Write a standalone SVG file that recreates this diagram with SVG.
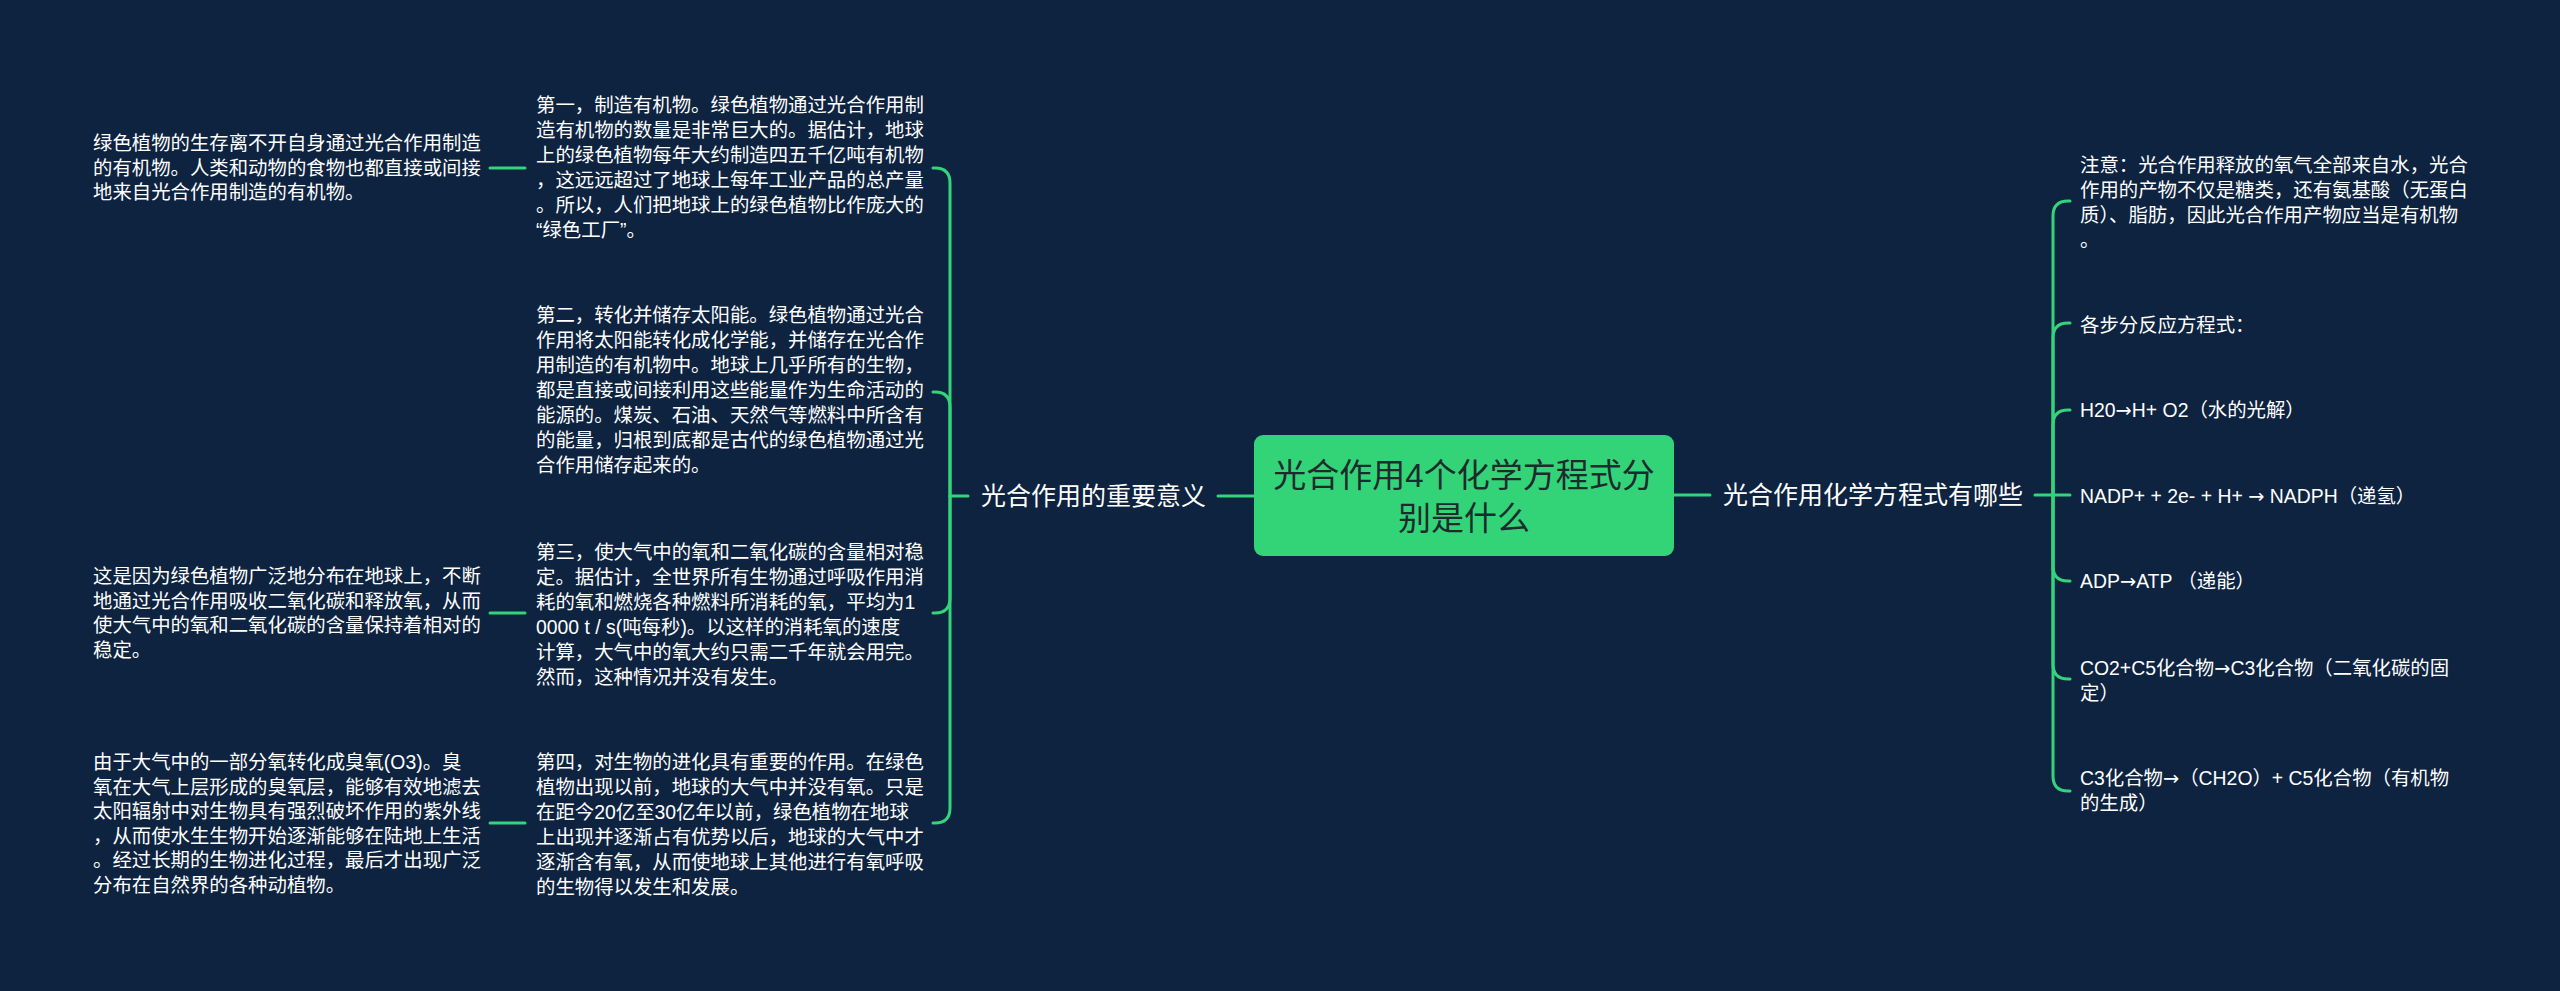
<svg xmlns="http://www.w3.org/2000/svg" width="2560" height="991" viewBox="0 0 2560 991">
<style>
.t{font-family:"Liberation Sans","Noto Sans CJK SC",sans-serif;font-size:19.4px;fill:#ffffff}
.m{font-family:"Liberation Sans","Noto Sans CJK SC",sans-serif;font-size:25px;fill:#ffffff}
.root{font-family:"Liberation Sans","Noto Sans CJK SC",sans-serif;font-size:33px;fill:#1e2b2e;text-anchor:middle}
.a{font-family:"DejaVu Sans",sans-serif}
.c{fill:none;stroke:#35d37a;stroke-width:3;stroke-linecap:round}
</style>
<rect width="2560" height="991" fill="#0d2340"/>
<g id="connectors">
<path class="c" d="M1254,496 H1218"/>
<path class="c" d="M1674,495 H1710"/>
<path class="c" d="M968,496 H950"/>
<path class="c" d="M950,496 V183 Q950,168 935,168 H933"/>
<path class="c" d="M950,496 V407 Q950,392 935,392 H933"/>
<path class="c" d="M950,496 V598 Q950,613 935,613 H933"/>
<path class="c" d="M950,496 V808 Q950,823 935,823 H933"/>
<path class="c" d="M525,168 H490"/>
<path class="c" d="M525,613 H490"/>
<path class="c" d="M525,823 H490"/>
<path class="c" d="M2035,495 H2053"/>
<path class="c" d="M2053,495 V216 Q2053,201 2068,201 H2070"/>
<path class="c" d="M2053,495 V338 Q2053,323 2068,323 H2070"/>
<path class="c" d="M2053,495 V425 Q2053,410 2068,410 H2070"/>
<path class="c" d="M2053,495 H2070"/>
<path class="c" d="M2053,495 V566 Q2053,581 2068,581 H2070"/>
<path class="c" d="M2053,495 V664 Q2053,679 2068,679 H2070"/>
<path class="c" d="M2053,495 V776 Q2053,791 2068,791 H2070"/>
</g>
<g id="root">
<rect x="1254" y="435" width="420" height="121" rx="9" fill="#33d477"/>
<text class="root" x="1464" y="487">光合作用4个化学方程式分</text>
<text class="root" x="1464" y="530">别是什么</text>
</g>
<g id="node-left-main">
<text class="m" x="981" y="505">光合作用的重要意义</text>
</g>
<g id="node-right-main">
<text class="m" x="1723" y="504">光合作用化学方程式有哪些</text>
</g>
<g id="node-m1">
<text class="t" x="536" y="112">第一，制造有机物。绿色植物通过光合作用制</text>
<text class="t" x="536" y="137">造有机物的数量是非常巨大的。据估计，地球</text>
<text class="t" x="536" y="162">上的绿色植物每年大约制造四五千亿吨有机物</text>
<text class="t" x="536" y="187">，这远远超过了地球上每年工业产品的总产量</text>
<text class="t" x="536" y="212">。所以，人们把地球上的绿色植物比作庞大的</text>
<text class="t" x="536" y="237">“绿色工厂”。</text>
</g>
<g id="node-l1">
<text class="t" x="93" y="150">绿色植物的生存离不开自身通过光合作用制造</text>
<text class="t" x="93" y="174.5">的有机物。人类和动物的食物也都直接或间接</text>
<text class="t" x="93" y="199">地来自光合作用制造的有机物。</text>
</g>
<g id="node-m2">
<text class="t" x="536" y="322">第二，转化并储存太阳能。绿色植物通过光合</text>
<text class="t" x="536" y="347">作用将太阳能转化成化学能，并储存在光合作</text>
<text class="t" x="536" y="372">用制造的有机物中。地球上几乎所有的生物，</text>
<text class="t" x="536" y="397">都是直接或间接利用这些能量作为生命活动的</text>
<text class="t" x="536" y="422">能源的。煤炭、石油、天然气等燃料中所含有</text>
<text class="t" x="536" y="447">的能量，归根到底都是古代的绿色植物通过光</text>
<text class="t" x="536" y="472">合作用储存起来的。</text>
</g>
<g id="node-m3">
<text class="t" x="536" y="559">第三，使大气中的氧和二氧化碳的含量相对稳</text>
<text class="t" x="536" y="584">定。据估计，全世界所有生物通过呼吸作用消</text>
<text class="t" x="536" y="609">耗的氧和燃烧各种燃料所消耗的氧，平均为1</text>
<text class="t" x="536" y="634">0000 t / s(吨每秒)。以这样的消耗氧的速度</text>
<text class="t" x="536" y="659">计算，大气中的氧大约只需二千年就会用完。</text>
<text class="t" x="536" y="684">然而，这种情况并没有发生。</text>
</g>
<g id="node-l3">
<text class="t" x="93" y="583">这是因为绿色植物广泛地分布在地球上，不断</text>
<text class="t" x="93" y="607.5">地通过光合作用吸收二氧化碳和释放氧，从而</text>
<text class="t" x="93" y="632">使大气中的氧和二氧化碳的含量保持着相对的</text>
<text class="t" x="93" y="656.5">稳定。</text>
</g>
<g id="node-m4">
<text class="t" x="536" y="769">第四，对生物的进化具有重要的作用。在绿色</text>
<text class="t" x="536" y="794">植物出现以前，地球的大气中并没有氧。只是</text>
<text class="t" x="536" y="819">在距今20亿至30亿年以前，绿色植物在地球</text>
<text class="t" x="536" y="844">上出现并逐渐占有优势以后，地球的大气中才</text>
<text class="t" x="536" y="869">逐渐含有氧，从而使地球上其他进行有氧呼吸</text>
<text class="t" x="536" y="894">的生物得以发生和发展。</text>
</g>
<g id="node-l4">
<text class="t" x="93" y="769">由于大气中的一部分氧转化成臭氧(O3)。臭</text>
<text class="t" x="93" y="793.5">氧在大气上层形成的臭氧层，能够有效地滤去</text>
<text class="t" x="93" y="818">太阳辐射中对生物具有强烈破坏作用的紫外线</text>
<text class="t" x="93" y="842.5">，从而使水生生物开始逐渐能够在陆地上生活</text>
<text class="t" x="93" y="867">。经过长期的生物进化过程，最后才出现广泛</text>
<text class="t" x="93" y="891.5">分布在自然界的各种动植物。</text>
</g>
<g id="node-r1">
<text class="t" x="2080" y="172">注意：光合作用释放的氧气全部来自水，光合</text>
<text class="t" x="2080" y="197">作用的产物不仅是糖类，还有氨基酸（无蛋白</text>
<text class="t" x="2080" y="222">质）、脂肪，因此光合作用产物应当是有机物</text>
<text class="t" x="2080" y="247">。</text>
</g>
<g id="node-r2">
<text class="t" x="2080" y="332">各步分反应方程式：</text>
</g>
<g id="node-r3">
<text class="t" x="2080" y="417">H20<tspan class="a">→</tspan>H+ O2（水的光解）</text>
</g>
<g id="node-r4">
<text class="t" x="2080" y="503">NADP+ + 2e- + H+ <tspan class="a">→</tspan> NADPH（递氢）</text>
</g>
<g id="node-r5">
<text class="t" x="2080" y="588">ADP<tspan class="a">→</tspan>ATP （递能）</text>
</g>
<g id="node-r6">
<text class="t" x="2080" y="675">CO2+C5化合物<tspan class="a">→</tspan>C3化合物（二氧化碳的固</text>
<text class="t" x="2080" y="700">定）</text>
</g>
<g id="node-r7">
<text class="t" x="2080" y="785">C3化合物<tspan class="a">→</tspan>（CH2O）+ C5化合物（有机物</text>
<text class="t" x="2080" y="810">的生成）</text>
</g>
</svg>
